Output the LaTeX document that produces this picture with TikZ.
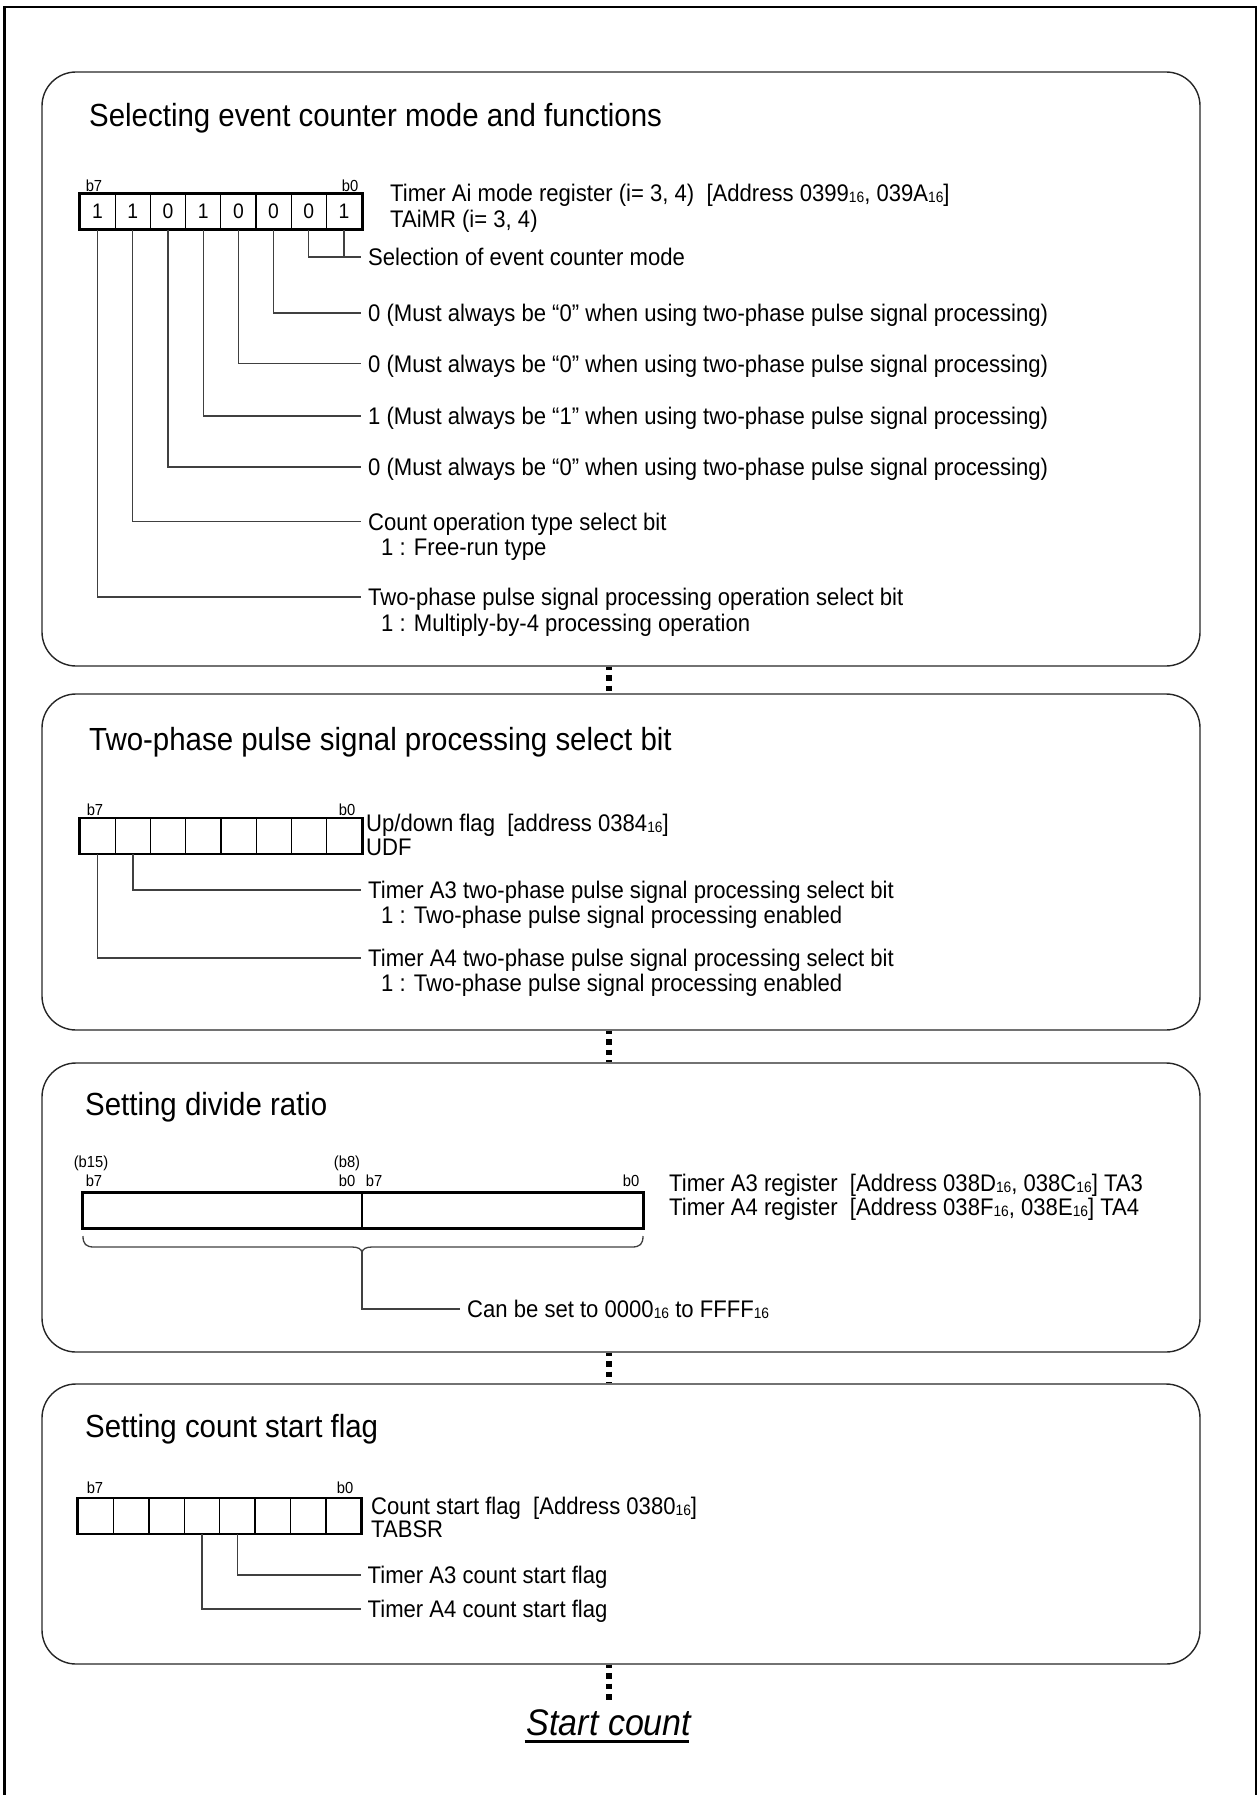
\documentclass[tikz,border=0pt]{standalone}
\usepackage{fontspec}
\setmainfont{Liberation Sans}[FakeStretch=0.92]
\usetikzlibrary{calc}
\newcommand{\hexs}[1]{\raisebox{-1pt}{\fontsize{15}{15}\selectfont #1}}
\begin{document}
\begin{tikzpicture}[x=1pt,y=-1pt,
  frame/.style={line width=2.6pt},
  panel/.style={draw=black!85, line width=1.4pt, rounded corners=34pt, minimum width=1158pt, inner sep=0pt},
  title/.style={anchor=west, inner sep=0pt, font=\fontsize{32}{34}\selectfont, text height=22.9pt, text depth=0pt},
  lbl/.style={anchor=west, inner xsep=7pt, inner ysep=0pt, font=\fontsize{24}{26}\selectfont, text height=17.2pt, text depth=0pt},
  sublbl/.style={anchor=west, inner sep=0pt, font=\fontsize{24}{26}\selectfont, text height=17.2pt, text depth=0pt},
  bitno/.style={inner sep=0pt, font=\fontsize{16}{17}\selectfont, text height=11.5pt, text depth=0pt},
  cell/.style={draw, line width=1.2pt, minimum width=35.2pt, minimum height=35pt, inner sep=0pt, font=\fontsize{21}{21}\selectfont},
  regbox/.style={line width=2.6pt},
  wire/.style={line width=1.3pt, draw=black!75},
  dots/.style={line width=6pt, dash pattern=on 5.5pt off 5pt},
]
\useasboundingbox (0,0) rectangle (1257,1795);
\draw[frame] (4.3,1800) -- (4.3,7.2) -- (1255.8,7.2) -- (1255.8,1800);

% panels
\node[panel, minimum height=594pt] (p1) at (621,369) {};
\node[panel, minimum height=336pt] (p2) at (621,862) {};
\node[panel, minimum height=289pt] (p3) at (621,1207.5) {};
\node[panel, minimum height=280pt] (p4) at (621,1524) {};

% connectors between panels
\coordinate (stop) at (609,1701);
\draw[dots, dash phase=2pt] (p1.south -| stop) -- (p2.north -| stop);
\draw[dots, dash phase=2pt] (p2.south -| stop) -- (p3.north -| stop);
\draw[dots, dash phase=2pt] (p3.south -| stop) -- (p4.north -| stop);
\draw[dots, dash phase=2pt] (p4.south -| stop) -- (stop);

% titles
\node[title] (t1) at (89,115) {Selecting event counter mode and functions};
\node[title] (t2) at (89,739) {Two-phase pulse signal processing select bit};
\node[title] (t3) at (85,1104) {Setting divide ratio};
\node[title] (t4) at (85,1426) {Setting count start flag};

% ---------- panel 1 ----------
\foreach \i/\v [count=\k from 0] in {7/1,6/1,5/0,4/1,3/0,2/0,1/0,0/1}
  \node[cell] (a\i) at ({97.6+35.2*\k},211.5) {\v};
\draw[regbox] (a7.north west) rectangle (a0.south east);
\node[bitno] (a7n) at (94,186) {b7};
\node[bitno] (a0n) at (350,186) {b0};
\node[sublbl] (n1) at (390,193) {Timer Ai mode register (i= 3, 4)\ \ [Address 0399\hexs{16}, 039A\hexs{16}]};
\node[sublbl] (n1b) at (390,219) {TAiMR (i= 3, 4)};

\node[lbl] (l0) at (361,257) {Selection of event counter mode};
\node[lbl] (l2) at (361,313) {0 (Must always be “0” when using two-phase pulse signal processing)};
\node[lbl] (l3) at (361,363.5) {0 (Must always be “0” when using two-phase pulse signal processing)};
\node[lbl] (l4) at (361,416) {1 (Must always be “1” when using two-phase pulse signal processing)};
\node[lbl] (l5) at (361,467) {0 (Must always be “0” when using two-phase pulse signal processing)};
\node[lbl] (l6) at (361,521.5) {Count operation type select bit};
\node[sublbl] (l6b) at (381,547) {1 : Free-run type};
\node[lbl] (l7) at (361,597) {Two-phase pulse signal processing operation select bit};
\node[sublbl] (l7b) at (381,623) {1 : Multiply-by-4 processing operation};

\draw[wire] (a1.south) |- (l0.west);
\draw[wire] (a0.south) -- (a0.south |- l0.west);
\draw[wire] (a2.south) |- (l2.west);
\draw[wire] (a3.south) |- (l3.west);
\draw[wire] (a4.south) |- (l4.west);
\draw[wire] (a5.south) |- (l5.west);
\draw[wire] (a6.south) |- (l6.west);
\draw[wire] (a7.south) |- (l7.west);

% ---------- panel 2 ----------
\foreach \i [count=\k from 0] in {7,6,5,4,3,2,1,0}
  \node[cell] (b\i) at ({97.6+35.25*\k},836) {};
\draw[regbox] (b7.north west) rectangle (b0.south east);
\node[bitno] (b7n) at (95,810) {b7};
\node[bitno] (b0n) at (347,810) {b0};
\node[sublbl] (n2) at (366,823) {Up/down flag\ \ [address 0384\hexs{16}]};
\node[sublbl] (n2b) at (366,847) {UDF};

\node[lbl] (m6) at (361,890) {Timer A3 two-phase pulse signal processing select bit};
\node[sublbl] (m6b) at (381,915) {1 : Two-phase pulse signal processing enabled};
\node[lbl] (m7) at (361,958) {Timer A4 two-phase pulse signal processing select bit};
\node[sublbl] (m7b) at (381,983) {1 : Two-phase pulse signal processing enabled};
\draw[wire] (b6.south) |- (m6.west);
\draw[wire] (b7.south) |- (m7.west);

% ---------- panel 3 ----------
\node[cell, minimum width=279pt] (h1) at (222.5,1210.5) {};
\node[cell, minimum width=281pt] (h0) at (502.5,1210.5) {};
\draw[regbox] (h1.north west) rectangle (h0.south east);
\node[bitno] (q15) at (91,1162) {(b15)};
\node[bitno] (q7a) at (94,1181) {b7};
\node[bitno] (q8) at (347,1162) {(b8)};
\node[bitno] (q0a) at (347,1181) {b0};
\node[bitno] (q7b) at (374,1181) {b7};
\node[bitno] (q0b) at (631,1181) {b0};
\node[sublbl] (n3) at (669,1183) {Timer A3 register\ \ [Address 038D\hexs{16}, 038C\hexs{16}] TA3};
\node[sublbl] (n3b) at (669,1207) {Timer A4 register\ \ [Address 038F\hexs{16}, 038E\hexs{16}] TA4};

\draw[wire] (83,1236) .. controls (83,1244) and (86,1247) .. (94,1247) -- (352,1247) .. controls (358,1247) and (362,1249) .. (362,1253);
\draw[wire] (643,1236) .. controls (643,1244) and (640,1247) .. (632,1247) -- (372,1247) .. controls (366,1247) and (362,1249) .. (362,1253);
\coordinate (bt) at (362,1253);
\node[lbl] (cv) at (460,1309) {Can be set to 0000\hexs{16} to FFFF\hexs{16}};
\draw[wire] (bt) |- (cv.west);

% ---------- panel 4 ----------
\foreach \i [count=\k from 0] in {7,6,5,4,3,2,1,0}
  \node[cell] (c\i) at ({95.7+35.4*\k},1516) {};
\draw[regbox] (c7.north west) rectangle (c0.south east);
\node[bitno] (c7n) at (95,1488) {b7};
\node[bitno] (c0n) at (345,1488) {b0};
\node[sublbl] (n4) at (371,1506) {Count start flag\ \ [Address 0380\hexs{16}]};
\node[sublbl] (n4b) at (371,1529) {TABSR};

\node[lbl] (k3) at (360.5,1575) {Timer A3 count start flag};
\node[lbl] (k4) at (360.5,1609) {Timer A4 count start flag};
\draw[wire] (c3.south) |- (k3.west);
\draw[wire] (c4.south) |- (k4.west);

% ---------- start count ----------
\node[anchor=base, inner sep=0pt, font=\fontsize{37}{39}\selectfont\itshape] (st) at (609,1735) {Start count};
\draw[line width=2.6pt] ($(st.base west)+(-2,6.5)$) -- ($(st.base east)+(-3,6.5)$);
\end{tikzpicture}
\end{document}
